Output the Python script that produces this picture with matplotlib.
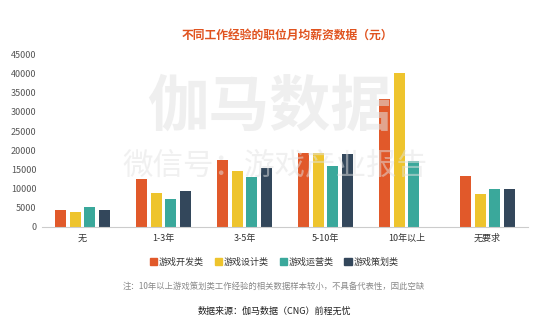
import numpy as np
import matplotlib
matplotlib.use('Agg')
import matplotlib.pyplot as plt
from matplotlib.patches import Rectangle

plt.rcParams['font.family'] = ['Noto Sans CJK SC', 'DejaVu Sans']

# data (yuan per month)
categories = ['无', '1-3年', '3-5年', '5-10年', '10年以上', '无要求']
series_names = ['游戏开发类', '游戏设计类', '游戏运营类', '游戏策划类']
dev = [4500, 12600, 17500, 19400, 33300, 13200]
design = [3800, 8800, 14700, 19200, 40100, 8700]
ops = [5300, 7300, 13100, 15800, 17300, 9800]
plan = [4300, 9300, 15500, 19000, np.nan, 10000]  # 10年以上 left blank
yticks = [0, 5000, 10000, 15000, 20000, 25000, 30000, 35000, 40000, 45000]

colors = ['#E1592A', '#EEC42D', '#3AA89B', '#33475B']

fig = plt.figure(figsize=(5.56, 3.26), dpi=100)
ax = fig.add_axes([0.0755, 0.3037, 0.874, 0.5297])

x = np.arange(len(categories))
step = 0.182
width = 0.136
for i, (vals, c) in enumerate(zip([dev, design, ops, plan], colors)):
    ax.bar(x + (i - 1.5) * step, vals, width=width, color=c, zorder=2)

ax.set_xlim(-0.5, 5.5)
ax.set_ylim(0, 45000)
ax.set_yticks(yticks)
ax.set_yticklabels([str(t) for t in yticks], fontsize=6.5, color='#555555')
ax.set_xticks(x)
ax.set_xticklabels(categories, fontsize=6.5, color='#333333')
ax.tick_params(axis='both', length=0, pad=4)
ax.tick_params(axis='x', pad=5)
for s in ['top', 'right', 'left']:
    ax.spines[s].set_visible(False)
ax.spines['bottom'].set_color('#cccccc')
ax.spines['bottom'].set_linewidth(0.8)

# title
fig.text(0.517, 0.893, '不同工作经验的职位月均薪资数据（元）', ha='center', va='center',
         fontsize=8.5, color='#E0531F', fontweight='bold')

# legend
handles = [Rectangle((0, 0), 1, 1, color=c) for c in colors]
fig.legend(handles, series_names, loc='center', bbox_to_anchor=(0.493, 0.195),
           ncol=4, frameon=False, fontsize=6.5, handlelength=0.8, handleheight=0.8,
           handletextpad=0.2, columnspacing=1.2, labelcolor='#333333')

fig.text(0.493, 0.12, '注：10年以上游戏策划类工作经验的相关数据样本较小，不具备代表性，因此空缺',
         ha='center', va='center', fontsize=6, color='#888888')
fig.text(0.493, 0.045, '数据来源：伽马数据（CNG）前程无忧', ha='center', va='center',
         fontsize=6.5, color='#222222')

# watermarks
fig.text(0.485, 0.67, '伽马数据', ha='center', va='center', fontsize=44,
         color='#e2e2e2', alpha=0.55, fontweight='bold', zorder=5)
fig.text(0.495, 0.49, '微信号：游戏产业报告', ha='center', va='center', fontsize=22,
         color='#e2e2e2', alpha=0.5, zorder=5)

fig.savefig('out.png', dpi=100)
